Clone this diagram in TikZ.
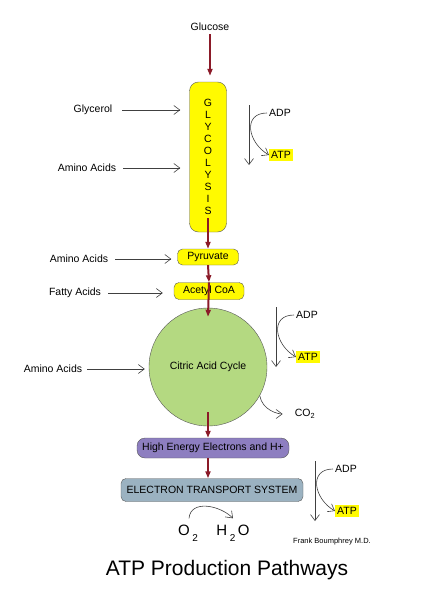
\documentclass[tikz,border=0pt]{standalone}
\usepackage{fontspec}
\setmainfont{Liberation Sans}
\usepackage{xcolor}
\usetikzlibrary{arrows.meta,positioning}
\definecolor{flowred}{RGB}{139,26,40}
\definecolor{glyyellow}{RGB}{255,250,0}
\definecolor{cycgreen}{RGB}{180,217,129}
\definecolor{hepurple}{RGB}{141,126,192}
\definecolor{etsblue}{RGB}{155,178,193}
\tikzset{
	stage/.style={draw=black!65, fill=#1, rounded corners=5pt, font=\fontsize{10.5}{12}\selectfont, align=center, inner sep=0pt},
	feedtext/.style={font=\fontsize{10.5}{12}\selectfont, inner sep=2pt},
	gastext/.style={font=\fontsize{15}{17}\selectfont, inner sep=2pt},
	atp/.style={fill=glyyellow, font=\fontsize{10.5}{12}\selectfont, inner sep=2pt},
	feed/.style={draw=black!75, line width=0.6pt, -{Straight Barb[length=6pt,width=9pt]}},
	mainflow/.style={draw=flowred, line width=2pt, -{Triangle[length=7pt,width=5pt]}}
}
\newcommand{\connectenergy}[3]{
	\node[feedtext] (#1-adp) at (#2,#3) {ADP};
	\node[atp] (#1-atp) at (#2+1,#3+42) {ATP};
	\coordinate (#1-top) at (#2-31,#3-8);
	\coordinate (#1-bottom) at (#2-31,#3+52);
	\draw[feed] (#1-top) -- (#1-bottom);
	\draw[feed] (#1-adp.west) to[out=180,in=150,looseness=1.5] (#1-atp.west);
}
\newcommand{\lowsub}[1]{\raisebox{-6pt}{\fontsize{10}{12}\selectfont#1}}

\begin{document}
\begin{tikzpicture}[x=1pt,y=-1pt]
	\useasboundingbox (0,0) rectangle (432,597);

	\node[feedtext] (glucose) at (210,27) {Glucose};
	\node[stage=glyyellow, minimum width=37pt, minimum height=150pt, rounded corners=9pt] (glycolysis) at (208,157)
		{G\\L\\Y\\C\\O\\L\\Y\\S\\I\\S}; %glycolysis
	\node[stage=glyyellow, minimum width=61pt, minimum height=16pt] (pyruvate) at (208,257) {Pyruvate};
	\node[stage=glyyellow, minimum width=70pt, minimum height=17pt] (acetyl-coa) at (209,291) {Acetyl CoA};
	\node[circle, draw=black!65, fill=cycgreen, minimum size=118pt, inner sep=0pt,
		font=\fontsize{10.5}{12}\selectfont] (citric-cycle) at (208,367) {Citric Acid Cycle};
	\node[stage=hepurple, minimum width=152pt, minimum height=20pt, rounded corners=8pt] (electrons) at (213,448)
		{High Energy Electrons and H+};
	\node[stage=etsblue, minimum width=182pt, minimum height=23pt] (ets) at (212,490)
		{ELECTRON TRANSPORT SYSTEM};

	% main pathway
	\draw[mainflow, shorten <=1pt, shorten >=6pt] (glucose) -- (glucose |- glycolysis.north);
	\draw[mainflow] ([yshift=14pt]glycolysis.south) -- (pyruvate.north);
	\draw[mainflow] (pyruvate.south) -- (acetyl-coa.north);
	\draw[mainflow] (acetyl-coa.north) -- ([yshift=-9pt]citric-cycle.north);
	\draw[mainflow] ([yshift=14pt]citric-cycle.south) -- (citric-cycle.south |- electrons.north);
	\draw[mainflow] (citric-cycle.south |- electrons.south) -- (citric-cycle.south |- ets.north);

	% feeders
	\node[feedtext] (glycerol) at (93,110) {Glycerol};
	\node[feedtext] (amino-acids-1) at (87,168) {Amino Acids};
	\node[feedtext] (amino-acids-2) at (79,259) {Amino Acids};
	\node[feedtext] (fatty-acids) at (75,293) {Fatty Acids};
	\node[feedtext] (amino-acids-3) at (53,369) {Amino Acids};
	\draw[feed, shorten <=8pt, shorten >=9pt] (glycerol) -- (glycolysis.west |- glycerol);
	\draw[feed, shorten <=5pt, shorten >=9pt] (amino-acids-1) -- (glycolysis.west |- amino-acids-1);
	\draw[feed, shorten <=5pt, shorten >=6pt] (amino-acids-2) -- (pyruvate.west |- amino-acids-2);
	\draw[feed, shorten <=5pt, shorten >=11pt] (fatty-acids) -- (acetyl-coa.west |- fatty-acids);
	\draw[feed, shorten <=3pt, shorten >=4pt] (amino-acids-3) -- (citric-cycle.west |- amino-acids-3);

	% ADP to ATP
	\connectenergy{glyco}{280}{113}
	\connectenergy{krebs}{307}{315}
	\connectenergy{oxphos}{346}{469}

	\node[feedtext] (co2) at (305,414) {CO\textsubscript{2}};
	\draw[feed, shorten >=10pt] (citric-cycle.-29) to[out=-80,in=180] (co2.west);

	\node[gastext, anchor=base] (oxygen) at (188,535) {O\,\lowsub{2}};
	\node[gastext, anchor=base] (water) at (233,535) {H\,\lowsub{2}\,O};
	\draw[feed] ([xshift=1pt,yshift=4pt]oxygen.north) to[out=85,in=135,looseness=1.1] ([yshift=4pt]water.north);

	\node[font=\fontsize{7.5}{9}\selectfont] (author) at (332,542) {Frank Boumphrey M.D.};
	\node[font=\fontsize{21}{25}\selectfont, anchor=base] (title) at (227,575) {ATP Production Pathways};
\end{tikzpicture}
\end{document}
